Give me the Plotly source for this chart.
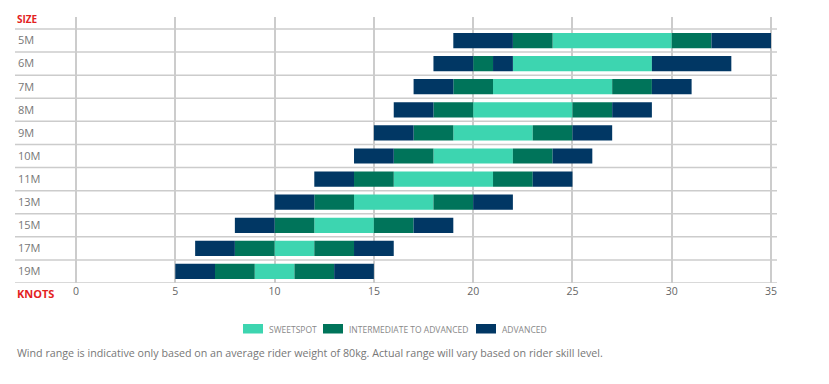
import plotly.graph_objects as go
import numpy as np

sizes = ["5M", "6M", "7M", "8M", "9M", "10M", "11M", "13M", "15M", "17M", "19M"]

# (start, end) in knots for each size, per segment
adv_low = [(19, 22), (18, 20), (17, 19), (16, 18), (15, 17), (14, 16), (12, 14), (10, 12), (8, 10), (6, 8), (5, 7)]
int_low = [(22, 24), (20, 21), (19, 21), (18, 20), (17, 19), (16, 18), (14, 16), (12, 14), (10, 12), (8, 10), (7, 9)]
adv_mid = [None, (21, 22), None, None, None, None, None, None, None, None, None]
sweet = [(24, 30), (22, 29), (21, 27), (20, 25), (19, 23), (18, 22), (16, 21), (14, 18), (12, 15), (10, 12), (9, 11)]
int_high = [(30, 32), None, (27, 29), (25, 27), (23, 25), (22, 24), (21, 23), (18, 20), (15, 17), (12, 14), (11, 13)]
adv_high = [(32, 35), (29, 33), (29, 31), (27, 29), (25, 27), (24, 26), (23, 25), (20, 22), (17, 19), (14, 16), (13, 15)]

knot_ticks = [0, 5, 10, 15, 20, 25, 30, 35]
legend_names = ["SWEETSPOT", "INTERMEDIATE TO ADVANCED", "ADVANCED"]

C_SWEET = "#3DD5B0"
C_INT = "#00745A"
C_ADV = "#013764"
GRID = "#CCCCCC"
TXT = "#777777"
RED = "#E3221E"

fig = go.Figure()


def add(segs, color, name):
    base = [s[0] if s else np.nan for s in segs]
    length = [(s[1] - s[0]) if s else np.nan for s in segs]
    fig.add_trace(go.Bar(
        y=sizes, x=length, base=base, orientation="h",
        marker=dict(color=color, line=dict(width=0)),
        width=0.66, name=name, showlegend=False,
        hovertemplate=name + ": %{base}–%{x}<extra></extra>",
    ))


add(sweet, C_SWEET, legend_names[0])
add(int_low, C_INT, legend_names[1])
add(int_high, C_INT, legend_names[1])
add(adv_low, C_ADV, legend_names[2])
add(adv_mid, C_ADV, legend_names[2])
add(adv_high, C_ADV, legend_names[2])

# row separator lines
for i in range(len(sizes) + 1):
    fig.add_shape(type="line", xref="paper", yref="y", x0=0, x1=1,
                  y0=i - 0.5, y1=i - 0.5, line=dict(color=GRID, width=1.5), layer="below")

# plot area in page pixels: x 15..777, y 17..283
def px(x):
    return (x - 15) / 762.0


def py(y):
    return (283 - y) / 266.0


# manual legend (swatch rectangles + labels)
swatch_x = [243, 323, 476]
for sx, name, col in zip(swatch_x, legend_names, [C_SWEET, C_INT, C_ADV]):
    fig.add_shape(type="rect", xref="paper", yref="paper",
                  x0=px(sx), x1=px(sx + 20), y0=py(333.5), y1=py(324),
                  fillcolor=col, line=dict(width=0))
    fig.add_annotation(text=name, xref="paper", yref="paper", x=px(sx + 24), y=py(329),
                       xanchor="left", yanchor="middle", showarrow=False,
                       font=dict(size=8.5, color="#888888"))

# page body has an 8px margin, so the figure is 8px smaller and offsets are shifted
fig.update_layout(
    width=821, height=376,
    margin=dict(l=7, r=52, t=9, b=101),
    paper_bgcolor="white", plot_bgcolor="white",
    barmode="overlay",
    font=dict(family="Open Sans", color=TXT),
    xaxis=dict(range=[-3.072, 35.30], tickvals=knot_ticks, showgrid=True,
               gridcolor=GRID, gridwidth=1.5, zeroline=False, showline=False,
               ticks="", tickfont=dict(size=10.5, color="#666666", family="Open Sans"),
               fixedrange=True),
    yaxis=dict(categoryorder="array", categoryarray=sizes, range=[10.5, -1.02],
               showgrid=False, zeroline=False, showline=False, ticks="",
               ticklabelposition="inside", tickfont=dict(size=11, color=TXT),
               fixedrange=True),
    showlegend=False,
)

fig.add_annotation(text="<b>SIZE</b>", xref="paper", yref="paper", x=0, y=py(19),
                   xanchor="left", yanchor="middle", showarrow=False,
                   font=dict(size=10, color=RED))
fig.add_annotation(text="<b>KNOTS</b>", xref="paper", yref="paper", x=0, y=py(293),
                   xanchor="left", yanchor="middle", showarrow=False,
                   font=dict(size=11, color=RED))
fig.add_annotation(text="Wind range is indicative only based on an average rider weight of 80kg. Actual range will vary based on rider skill level.",
                   xref="paper", yref="paper", x=0, y=py(353),
                   xanchor="left", yanchor="middle", showarrow=False,
                   font=dict(size=10.7, color="#777777"))

fig.write_html("out.html")
